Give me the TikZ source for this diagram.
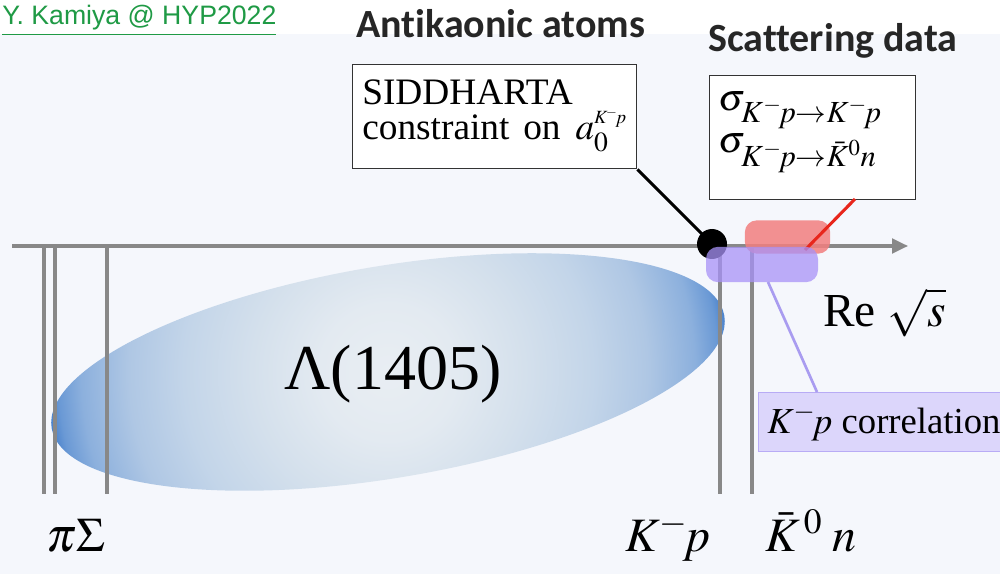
\documentclass[tikz,border=0pt]{standalone}
\usepackage{mathptmx}
\usepackage{fontspec}
\setmainfont{Liberation Serif}
\newfontfamily\arialf{Liberation Sans}
\newfontfamily\calibf[Ligatures=NoCommon]{Carlito}
\usetikzlibrary{arrows.meta}
\definecolor{bg}{HTML}{F5F7FC}
\definecolor{axisgray}{HTML}{888888}
\definecolor{kgreen}{HTML}{1F9A45}
\definecolor{titlegray}{HTML}{262626}
\definecolor{redbox}{HTML}{F27F7F}
\definecolor{redline}{HTML}{E8261C}
\definecolor{purplebox}{HTML}{A892F7}
\definecolor{purpleline}{HTML}{A99CF0}
\definecolor{corrfill}{HTML}{DCD6FB}
\definecolor{corrdraw}{HTML}{B8ABF5}
\definecolor{ellA}{HTML}{E9EEF3}
\definecolor{ellA2}{HTML}{E3EAF1}
\definecolor{ellB}{HTML}{D4E0EC}
\definecolor{ellC}{HTML}{C3D5E9}
\definecolor{ellD}{HTML}{AFC7E4}
\definecolor{ellE}{HTML}{8CB0DD}
\definecolor{ellE2}{HTML}{6A99D5}
\definecolor{ellF}{HTML}{4A82CC}
\pgfdeclareradialshading{lambdashade}{\pgfpoint{0bp}{0bp}}{color(0bp)=(ellA); color(5bp)=(ellA2); color(10bp)=(ellB); color(15bp)=(ellC); color(19bp)=(ellD); color(22.5bp)=(ellE); color(24.2bp)=(ellE2); color(25bp)=(ellF); color(50bp)=(ellF)}
\newcommand{\subsz}[1]{\mbox{\fontsize{23}{24}\selectfont$#1$}}
\newcommand{\supsz}[1]{\mbox{\fontsize{14}{14}\selectfont$#1$}}
\begin{document}
\begin{tikzpicture}[x=0.75pt,y=-0.75pt,
  axisline/.style={draw=axisgray, line width=2.4pt},
  vline/.style={draw=axisgray, line width=2.3pt},
  framebox/.style={draw=black!80, line width=1.1pt, fill=white, inner sep=0pt},
  boxtext/.style={font=\fontsize{28}{30}\selectfont, inner sep=0pt},
  sigtext/.style={font=\fontsize{28.5}{30}\selectfont, inner sep=0pt},
  axlabel/.style={font=\fontsize{36}{40}\selectfont, inner sep=0pt},
  title/.style={font=\calibf\bfseries\fontsize{30}{34}\selectfont, text=titlegray, inner sep=0pt},
  rangebox/.style={rounded corners=9pt, inner sep=0pt}]
\useasboundingbox (0,0) rectangle (1000,574);
\fill[white] (0,0) rectangle (1000,574);
\fill[bg] (0,34) rectangle (1000,574);

% Lambda(1405) ellipse
\coordinate (lc) at (388,372);
\begin{scope}
  \clip[rotate around={9.5:(lc)}] (lc) ellipse [x radius=341, y radius=106];
  \shade[shading=lambdashade] (lc) circle [radius=341];
\end{scope}
\node[font=\fontsize{48}{52}\selectfont, inner sep=0pt] (lam) at (393,374) {Λ(1405)};

% axis and thresholds
\coordinate (axL) at (12,246);
\coordinate (axR) at (908,246);
\draw[axisline, -{Triangle[length=12pt,width=11pt]}] (axL) -- (axR);
\foreach \name/\xx in {t1/44, t2/55, t3/107, t4/720, t5/752}{
  \coordinate (\name top) at (\xx,246);
  \coordinate (\name bot) at (\xx,494);
  \draw[vline] (\name top) -- (\name bot);
}

% SIDDHARTA box and dot
\node[framebox, anchor=north west, minimum width=213pt, minimum height=78pt] (sid) at (352,64) {};
\node[boxtext, anchor=base west] (sid1) at (362,105) {SIDDHARTA};
\node[boxtext, anchor=base west] (sid2) at (362,140) {constraint\hspace{0.12em} on\hspace{0.15em} $a_0^{\supsz{K^{\!-}\!p}}$};
\node[circle, fill=black, minimum size=22.5pt, inner sep=0pt] (dot) at (712,244) {};
\draw[black, line width=2.3pt] (sid.south east) -- (dot.center);

% scattering data box
\node[framebox, anchor=north west, minimum width=154.5pt, minimum height=93pt] (scat) at (709,75) {};
\node[sigtext, anchor=base west] (scat1) at (718,111) {$\sigma_{\subsz{K^-\!p{\to}K^-\!p}}$};
\node[sigtext, anchor=base west] (scat2) at (718,153) {$\sigma_{\subsz{K^-\!p{\to}\bar{K}^0n}}$};

% red range box
\node[rangebox, fill=redbox, fill opacity=0.85, minimum width=64pt, minimum height=25pt] (rb) at (787.5,237) {};
\coordinate (rbend) at (805,250);
\coordinate (scatfoot) at (855,199);
\draw[redline, line width=2.3pt] (scatfoot) -- (rbend);

% purple range box
\node[rangebox, fill=purplebox, fill opacity=0.75, minimum width=84pt, minimum height=26.5pt] (pb) at (762,264.5) {};
\coordinate (pbfoot) at (768,282);

% K-p correlation box
\node[draw=corrdraw, fill=corrfill, line width=1pt, anchor=north west, minimum width=200pt, minimum height=44pt, inner sep=0pt] (corr) at (758,392) {};
\draw[purpleline, line width=2pt] (pbfoot) -- (817,392);
\node[font=\fontsize{27.5}{30}\selectfont, inner sep=0pt, anchor=base west] (corrt) at (767,433) {$K^-\!p$ correlation};

% axis labels
\node[font=\fontsize{35.5}{38}\selectfont, inner sep=0pt, anchor=base west] (re) at (823,326) {Re $\sqrt{s}$};
\node[axlabel, anchor=base west] (pisig) at (46,551) {$\pi\Sigma$};
\node[axlabel, anchor=base west] (kp) at (625,551) {$K^-\!p$};
\node[axlabel, anchor=base west] (k0n) at (765,551) {$\bar{K}^{\,0}\;n$};

% titles
\node[font=\arialf\fontsize{20}{23}\selectfont, text=kgreen, inner sep=0pt, anchor=base west] (author) at (2,25) {\underline{Y. Kamiya @ HYP2022}};
\node[title, anchor=base west] (tatoms) at (356,38) {Antikaonic atoms};
\node[title, anchor=base west] (tscat) at (708,52) {Scattering data};
\end{tikzpicture}
\end{document}
